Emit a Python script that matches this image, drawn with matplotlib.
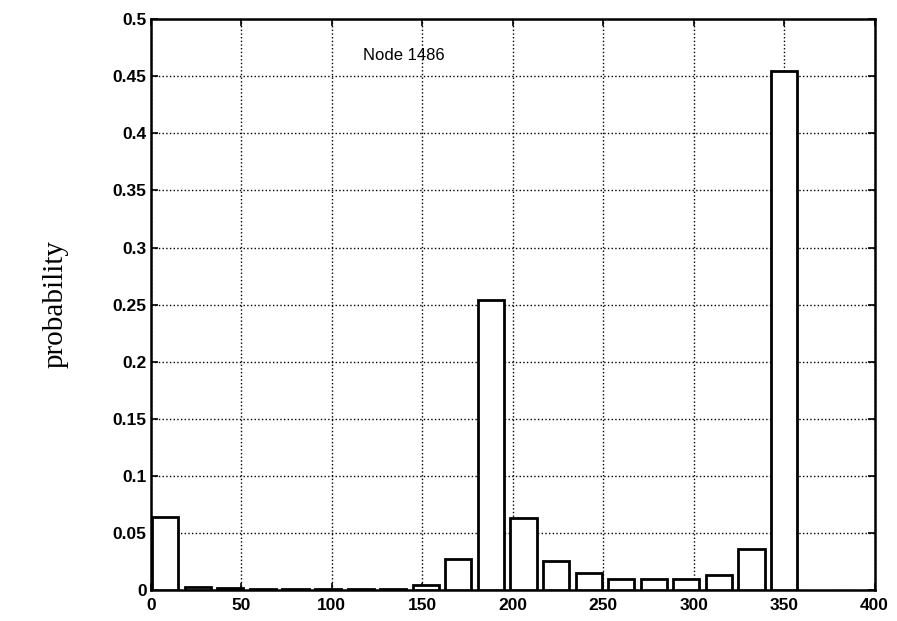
import numpy as np
import matplotlib
matplotlib.use('Agg')
import matplotlib.pyplot as plt

# bin centres (18 degree bins) and probabilities
centers = [8, 26, 44, 62, 80, 98, 116, 134, 152, 170,
           188, 206, 224, 242, 260, 278, 296, 314, 332, 350]
probs = [0.064, 0.003, 0.002, 0.0005, 0.0005, 0.0005, 0.0005, 0.0005, 0.004, 0.027,
         0.254, 0.063, 0.025, 0.015, 0.010, 0.010, 0.010, 0.013, 0.036, 0.455]
yticks = [0, 0.05, 0.1, 0.15, 0.2, 0.25, 0.3, 0.35, 0.4, 0.45, 0.5]
ytick_labels = ['0', '0.05', '0.1', '0.15', '0.2', '0.25', '0.3', '0.35', '0.4', '0.45', '0.5']
xticks = [0, 50, 100, 150, 200, 250, 300, 350, 400]

plt.rcParams['font.family'] = ['Liberation Sans', 'DejaVu Sans']

fig = plt.figure(figsize=(8.97, 6.21), dpi=100)
ax = fig.add_axes([0.168, 0.050, 0.807, 0.919])

ax.bar(centers, probs, width=14.4, facecolor='white', edgecolor='black', linewidth=2, zorder=3)

ax.set_xlim(0, 400)
ax.set_ylim(0, 0.5)
ax.set_xticks(xticks)
ax.set_yticks(yticks)
ax.set_yticklabels(ytick_labels)
ax.tick_params(direction='in', length=5, width=1.2, labelsize=12.5, top=True, right=True)
ax.tick_params(axis='x', pad=6)
ax.tick_params(axis='y', pad=3)
for lab in ax.get_xticklabels() + ax.get_yticklabels():
    lab.set_fontweight('bold')
ax.grid(True, linestyle=':', color='black', linewidth=1, zorder=0)
for s in ax.spines.values():
    s.set_linewidth(1.8)

ax.text(140, 0.468, 'Node 1486', ha='center', va='center', fontsize=12)
fig.text(0.062, 0.51, 'probability', rotation=90, ha='center', va='center',
         fontsize=21, family='Liberation Serif')

plt.savefig('out.png', dpi=100)
